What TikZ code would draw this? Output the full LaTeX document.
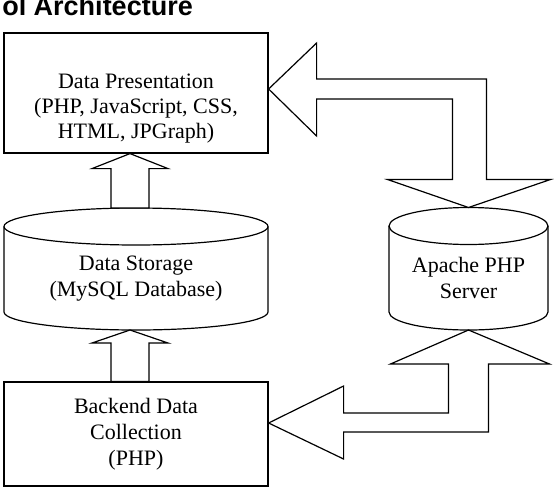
\documentclass[tikz,border=0pt]{standalone}
\usepackage{fontspec}
\setmainfont{Liberation Serif}
\newfontfamily\headfont{Liberation Sans}

\begin{document}
\begin{tikzpicture}[
        x=1pt, y=-1pt,
        box/.style={rectangle, draw, line width=1.2pt, align=center, minimum width=264pt, font=\fontsize{22}{26}\selectfont},
        dbtext/.style={rectangle, align=center, inner sep=0pt, outer sep=0pt, font=\fontsize{22}{26}\selectfont},
        line/.style={line width=1.2pt},
        blockarrow/.style={draw, fill=white, line width=1.2pt, line join=miter}
    ]
        \clip (0,0) rectangle (554,498);
        \node[font=\headfont\bfseries\fontsize{27}{30}\selectfont, anchor=base east, inner sep=0pt] (title) at (193,15) {ol Architecture};

        \node[box, minimum height=120pt, font=\fontsize{22}{25}\selectfont, text height=94.8pt, text depth=4.8pt] (pres) at (136,93) {Data Presentation\\(PHP, JavaScript, CSS,\\HTML, JPGraph)};
        \node[dbtext, minimum width=264pt, minimum height=103.5pt] (store) at (136,278.25) {Data Storage\\(MySQL Database)};
        \node[dbtext, minimum width=159pt, minimum height=104pt] (apache) at (468.5,278) {Apache PHP\\Server};
        \node[box, minimum height=104pt] (back) at (136,434) {Backend Data\\Collection\\(PHP)};

        % cylinders
        \draw[line] (store.north) ellipse[x radius=132pt, y radius=18.5pt];
        \draw[line] (store.north west) -- ([yshift=18pt]store.south west) arc[start angle=180, end angle=360, x radius=132pt, y radius=18pt] -- (store.north east);
        \draw[line] (apache.north) ellipse[x radius=79.5pt, y radius=18.5pt];
        \draw[line] (apache.north west) -- ([yshift=18pt]apache.south west) arc[start angle=180, end angle=360, x radius=79.5pt, y radius=18pt] -- (apache.north east);

        \coordinate (storetop) at ([yshift=18.5pt]store.north);
        \coordinate (aptop) at ([yshift=18.5pt]apache.north);
        \coordinate (vi) at ([xshift=-16pt]aptop);
        \coordinate (vo) at ([xshift=18pt]aptop);
        \coordinate (hb) at ([yshift=28pt]aptop);
        \coordinate (vi2) at ([xshift=-20pt]apache.south);
        \coordinate (vo2) at ([xshift=20pt]apache.south);
        \coordinate (hb2) at ([yshift=-34pt]apache.south);

        % block arrows
        \draw[blockarrow] ([xshift=-6pt]pres.south) -- ++(38,15) -- ++(-19,0) coordinate (r) -- (r |- storetop) -- ++(-38,0) coordinate (l) -- (l |- r) -- ++(-19,0) -- cycle;
        \draw[blockarrow] ([xshift=-6pt]store.south) -- ++(38,13) -- ++(-19,0) coordinate (r) -- (r |- back.north) -- ++(-38,0) coordinate (l) -- (l |- r) -- ++(-19,0) -- cycle;
        \draw[blockarrow] ([yshift=4pt]pres.east) -- ++(48,47) -- ++(0,-37) coordinate (b) -- (b -| vi) -- (vi |- hb) -- ++(-65,0) -- (aptop) -- ++(82,-28) -- (vo |- hb) |- ([yshift=20pt]b) -- ++(0,-36) -- cycle;
        \draw[blockarrow] ([yshift=11pt]back.east) -- ++(75,-37) -- ++(0,27) coordinate (b) -- (b -| vi2) -- (vi2 |- hb2) -- ++(-58,0) -- (apache.south) -- ++(81,34) -- (vo2 |- hb2) |- ([yshift=-19pt]b) -- ++(0,27) -- cycle;
    \end{tikzpicture}
\end{document}
